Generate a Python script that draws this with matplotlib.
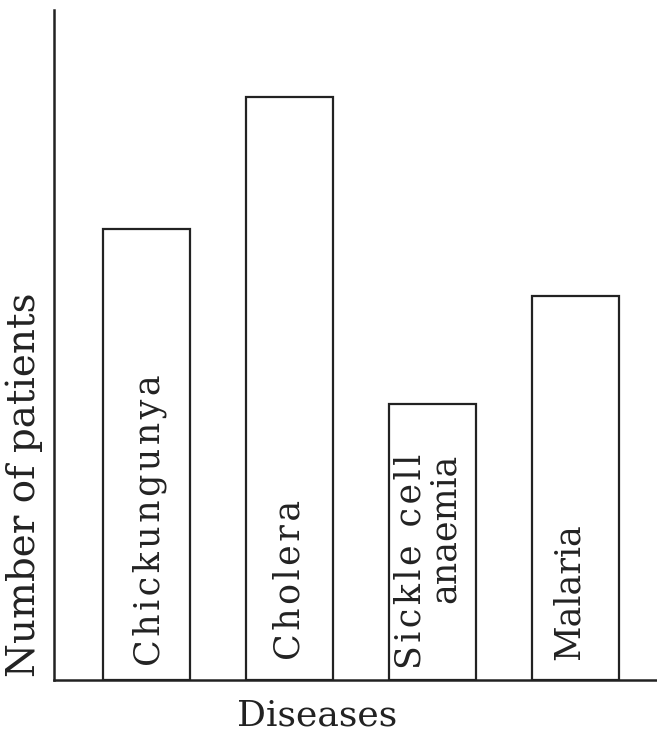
import matplotlib
matplotlib.use("Agg")
import matplotlib.pyplot as plt

categories = ["Chickungunya", "Cholera", "Sickle cell\nanaemia", "Malaria"]
patients = [451, 583, 276, 384]
x_label = "Diseases"
y_label = "Number of patients"

plt.rcParams['font.family'] = ['DejaVu Serif']


def spaced(s, flags):
    lines = s.split('\n')
    return '\n'.join(('\u200a'.join(l) if f else l) for l, f in zip(lines, flags))


fig = plt.figure(figsize=(6.57, 7.33), dpi=100)
ax = fig.add_axes([54/657, 53/733, 603/657, 670/733])

pos = list(range(len(categories)))
ax.bar(pos, patients, width=0.61, facecolor='white', edgecolor='#222222', linewidth=1.6)
ax.set_xlim(-0.647, 3.57)
ax.set_ylim(0, 670)

label_bottom = [14, 20, 11, 20]
label_dx = [0.02, 0.0, -0.035, -0.05]
label_spacing = [[True], [True], [True, False], [False]]
for p, name, b, dx, sp in zip(pos, categories, label_bottom, label_dx, label_spacing):
    ax.text(p + dx, b, spaced(name, sp), rotation=90, ha='center', va='bottom',
            fontsize=25, color='#222222', multialignment='right', linespacing=1.0)

for s in ['top', 'right']:
    ax.spines[s].set_visible(False)
ax.spines['left'].set_linewidth(1.8)
ax.spines['bottom'].set_linewidth(1.8)
ax.spines['left'].set_color('#222222')
ax.spines['bottom'].set_color('#222222')
ax.set_xticks([])
ax.set_yticks([])

fig.text(317/657, 1 - 716/733, x_label, fontsize=26, color='#222222',
         ha='center', va='center')
fig.text(24/657, 1 - 485/733, y_label, fontsize=28, color='#222222',
         ha='center', va='center', rotation=90)

fig.savefig("out.png", dpi=100)
